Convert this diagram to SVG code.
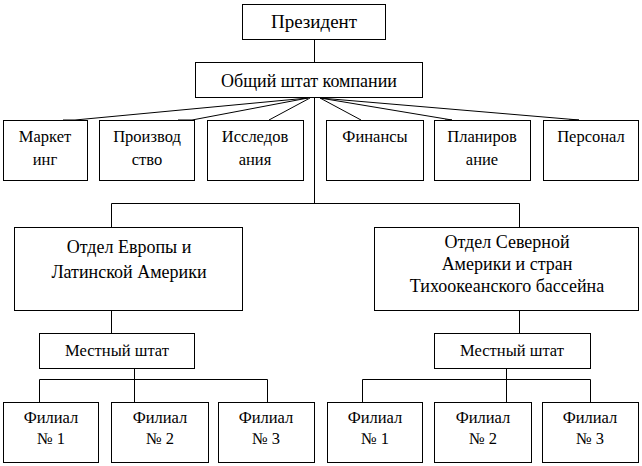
<svg xmlns="http://www.w3.org/2000/svg" width="642" height="466" viewBox="0 0 642 466" xml:lang="ru">
<style>
rect{fill:#fff;stroke:#000;stroke-width:1}
.c path{fill:none;stroke:#000;stroke-width:1}
text{font-family:"Liberation Serif","Times New Roman",serif;fill:#000;text-anchor:middle}
.p{font-size:19px}
.b{font-size:18px}
.s{font-size:16.5px}
</style>
<rect x="0" y="0" width="642" height="466" style="stroke:none"/>
<g class="c" id="connectors">
<path d="M314.5 39.5V62.5"/>
<path d="M314.5 97.5V203.5"/>
<path d="M111.5 203.5H519.5M111.5 203.5V227.5M519.5 203.5V227.5"/>
<path d="M111.5 310.5V333.5M519.5 310.5V333.5"/>
<path d="M134.5 368.5V402.5M39.5 379.5H267.5M39.5 379.5V402.5M267.5 379.5V402.5"/>
<path d="M506.5 368.5V402.5M362.5 379.5H590.5M362.5 379.5V402.5M590.5 379.5V402.5"/>
<path d="M308 98L75 120H63"/>
<path d="M308 98L192 120H178"/>
<path d="M310 98L269 120"/>
<path d="M320 98L361 120"/>
<path d="M320 98L452 120H445"/>
<path d="M320 98L579 120H569"/>
</g>
<g id="president"><rect x="242.5" y="4.5" width="143" height="35"/><text class="p" x="314" y="28">Президент</text></g>
<g id="general"><rect x="195.5" y="62.5" width="227" height="35"/><text class="b" x="309" y="87">Общий штат компании</text></g>
<g id="marketing"><rect x="3.5" y="120.5" width="84" height="60"/><text class="s" x="45" y="142">Маркет</text><text class="s" x="45" y="165">инг</text></g>
<g id="production"><rect x="99.5" y="120.5" width="95" height="60"/><text class="s" x="147" y="142">Производ</text><text class="s" x="147" y="165">ство</text></g>
<g id="research"><rect x="207.5" y="120.5" width="96" height="60"/><text class="s" x="255" y="142">Исследов</text><text class="s" x="255" y="165">ания</text></g>
<g id="finance"><rect x="326.5" y="120.5" width="97" height="60"/><text class="s" x="375" y="142">Финансы</text></g>
<g id="planning"><rect x="434.5" y="120.5" width="96" height="60"/><text class="s" x="482" y="142">Планиров</text><text class="s" x="482" y="165">ание</text></g>
<g id="personnel"><rect x="543.5" y="120.5" width="95" height="60"/><text class="s" x="591" y="142">Персонал</text></g>
<g id="europe"><rect x="14.5" y="227.5" width="228" height="83"/><text class="b" x="129" y="253">Отдел Европы и</text><text class="b" x="129" y="278">Латинской Америки</text></g>
<g id="namerica"><rect x="374.5" y="227.5" width="264" height="83"/><text class="b" x="507" y="248">Отдел Северной</text><text class="b" x="507" y="270">Америки и стран</text><text class="b" x="507" y="292">Тихоокеанского бассейна</text></g>
<g id="local-left"><rect x="39.5" y="333.5" width="155" height="35"/><text class="s" x="117" y="356">Местный штат</text></g>
<g id="local-right"><rect x="434.5" y="333.5" width="156" height="35"/><text class="s" x="512" y="356">Местный штат</text></g>
<g id="branch-l1"><rect x="3.5" y="402.5" width="95" height="60"/><text class="s" x="51" y="423">Филиал</text><text class="s" x="51" y="444">№ 1</text></g>
<g id="branch-l2"><rect x="111.5" y="402.5" width="97" height="60"/><text class="s" x="160" y="423">Филиал</text><text class="s" x="160" y="444">№ 2</text></g>
<g id="branch-l3"><rect x="218.5" y="402.5" width="96" height="60"/><text class="s" x="266" y="423">Филиал</text><text class="s" x="266" y="444">№ 3</text></g>
<g id="branch-r1"><rect x="327.5" y="402.5" width="95" height="60"/><text class="s" x="375" y="423">Филиал</text><text class="s" x="375" y="444">№ 1</text></g>
<g id="branch-r2"><rect x="434.5" y="402.5" width="97" height="60"/><text class="s" x="483" y="423">Филиал</text><text class="s" x="483" y="444">№ 2</text></g>
<g id="branch-r3"><rect x="542.5" y="402.5" width="96" height="60"/><text class="s" x="590" y="423">Филиал</text><text class="s" x="590" y="444">№ 3</text></g>
</svg>
